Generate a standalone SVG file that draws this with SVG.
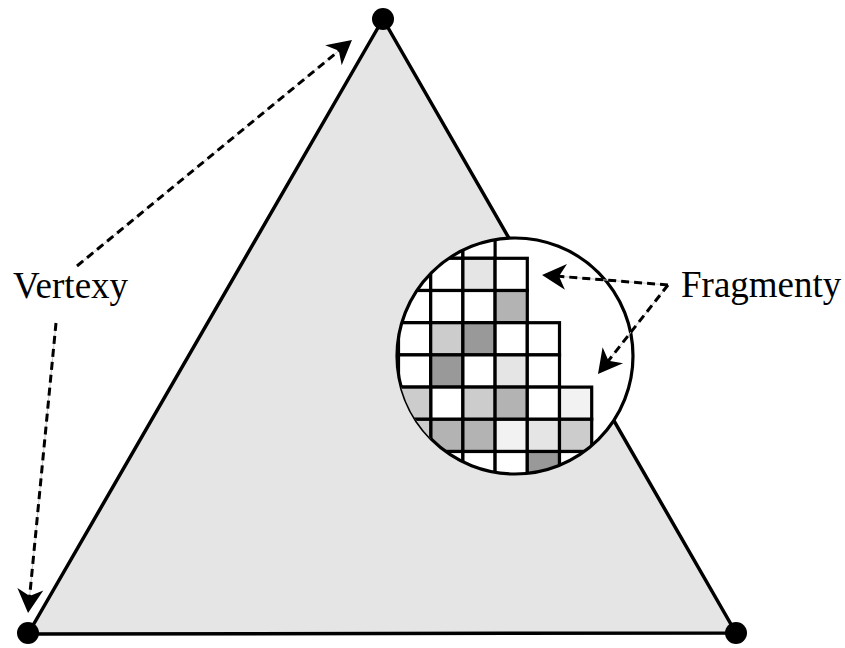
<svg xmlns="http://www.w3.org/2000/svg" width="845" height="648" viewBox="0 0 845 648">
<style>
.edge{fill:#e5e5e5;stroke:#000;stroke-width:3.5;stroke-linejoin:round}
.dot{fill:#000}
.cell{stroke:#000;stroke-width:3.2}
.w{fill:#fff}.g1{fill:#f2f2f2}.g2{fill:#e5e5e5}.g3{fill:#cccccc}.g4{fill:#b3b3b3}.g5{fill:#999999}
.lbl{font-family:"Liberation Serif","Times New Roman",serif;font-size:37px;fill:#000}
.guide{fill:none;stroke:#c8c8c8;stroke-width:1}
.dash{fill:none;stroke:#000;stroke-width:3;stroke-dasharray:8 5}
</style>
<defs>
<clipPath id="lens"><circle cx="515" cy="356" r="118"/></clipPath>
<marker id="head" viewBox="-25 -14 27 28" refX="-12" refY="0" markerWidth="27" markerHeight="28" markerUnits="userSpaceOnUse" orient="auto" overflow="visible">
<path d="M0,0 L-24,-13 L-17,0 L-24,13 Z" fill="#000"/>
</marker>
</defs>
<rect width="845" height="648" fill="#fff"/>
<g id="triangle">
<polygon class="edge" points="383,19 28,634 736,633"/>
</g>
<g id="vertices">
<circle class="dot" cx="383" cy="19" r="11"/>
<circle class="dot" cx="28" cy="633" r="11"/>
<circle class="dot" cx="736" cy="633" r="11"/>
</g>
<g id="magnifier">
<circle cx="515" cy="356" r="118" fill="#fff"/>
<g clip-path="url(#lens)">
<rect class="cell w" x="430.7" y="226.1" width="32.2" height="32.2"/>
<rect class="cell w" x="462.9" y="226.1" width="32.2" height="32.2"/>
<rect class="cell w" x="398.5" y="258.3" width="32.2" height="32.2"/>
<rect class="cell w" x="430.7" y="258.3" width="32.2" height="32.2"/>
<rect class="cell g2" x="462.9" y="258.3" width="32.2" height="32.2"/>
<rect class="cell w" x="495.1" y="258.3" width="32.2" height="32.2"/>
<rect class="cell w" x="398.5" y="290.5" width="32.2" height="32.2"/>
<rect class="cell w" x="430.7" y="290.5" width="32.2" height="32.2"/>
<rect class="cell w" x="462.9" y="290.5" width="32.2" height="32.2"/>
<rect class="cell g4" x="495.1" y="290.5" width="32.2" height="32.2"/>
<rect class="cell w" x="398.5" y="322.7" width="32.2" height="32.2"/>
<rect class="cell g3" x="430.7" y="322.7" width="32.2" height="32.2"/>
<rect class="cell g5" x="462.9" y="322.7" width="32.2" height="32.2"/>
<rect class="cell w" x="495.1" y="322.7" width="32.2" height="32.2"/>
<rect class="cell w" x="527.3" y="322.7" width="32.2" height="32.2"/>
<rect class="cell w" x="398.5" y="354.9" width="32.2" height="32.2"/>
<rect class="cell g5" x="430.7" y="354.9" width="32.2" height="32.2"/>
<rect class="cell w" x="462.9" y="354.9" width="32.2" height="32.2"/>
<rect class="cell g2" x="495.1" y="354.9" width="32.2" height="32.2"/>
<rect class="cell w" x="527.3" y="354.9" width="32.2" height="32.2"/>
<rect class="cell w" x="430.7" y="387.1" width="32.2" height="32.2"/>
<rect class="cell g3" x="462.9" y="387.1" width="32.2" height="32.2"/>
<rect class="cell g4" x="495.1" y="387.1" width="32.2" height="32.2"/>
<rect class="cell w" x="527.3" y="387.1" width="32.2" height="32.2"/>
<rect class="cell g1" x="559.5" y="387.1" width="32.2" height="32.2"/>
<rect class="cell g4" x="430.7" y="419.3" width="32.2" height="32.2"/>
<rect class="cell g4" x="462.9" y="419.3" width="32.2" height="32.2"/>
<rect class="cell g1" x="495.1" y="419.3" width="32.2" height="32.2"/>
<rect class="cell g2" x="527.3" y="419.3" width="32.2" height="32.2"/>
<rect class="cell g3" x="559.5" y="419.3" width="32.2" height="32.2"/>
<rect class="cell w" x="430.7" y="451.5" width="32.2" height="32.2"/>
<rect class="cell w" x="462.9" y="451.5" width="32.2" height="32.2"/>
<rect class="cell w" x="495.1" y="451.5" width="32.2" height="32.2"/>
<rect class="cell g5" x="527.3" y="451.5" width="32.2" height="32.2"/>
<rect class="cell w" x="559.5" y="451.5" width="32.2" height="32.2"/>
</g>
<circle cx="515" cy="356" r="118" fill="none" stroke="#000" stroke-width="3.2"/>
<g clip-path="url(#lens)">
<rect class="cell g3" x="398.5" y="387.1" width="32.2" height="32.2"/>
<rect class="cell g3" x="398.5" y="419.3" width="32.2" height="32.2"/>
</g>
</g>
<g id="labels">
<text class="lbl" x="13" y="298">Vertexy</text>
<text class="lbl" x="681" y="297">Fragmenty</text>
</g>
<g id="connectors">
<line class="guide" x1="77" y1="266" x2="342.7" y2="47.6"/>
<line class="guide" x1="56" y1="323" x2="29.2" y2="601.1"/>
<line class="guide" x1="668" y1="285" x2="554" y2="275.9"/>
<line class="guide" x1="668" y1="285" x2="605.4" y2="364.6"/>
<line class="dash" x1="77" y1="266" x2="342.7" y2="47.6" marker-end="url(#head)"/>
<line class="dash" x1="56" y1="323" x2="29.2" y2="601.1" marker-end="url(#head)"/>
<line class="dash" x1="668" y1="285" x2="554" y2="275.9" marker-end="url(#head)"/>
<line class="dash" x1="668" y1="285" x2="605.4" y2="364.6" marker-end="url(#head)"/>
</g>
</svg>
